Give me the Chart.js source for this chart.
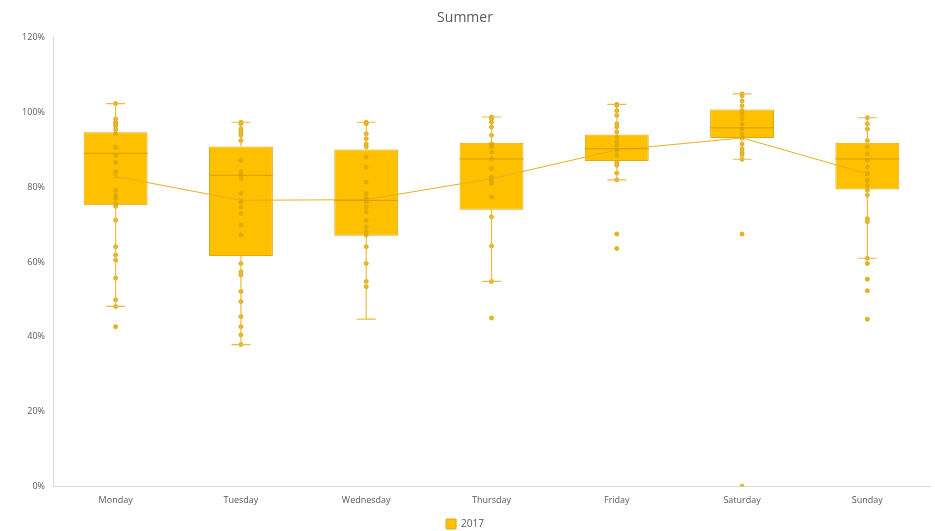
<!DOCTYPE html>
<html>
<head>
<meta charset="utf-8">
<script src="https://cdn.jsdelivr.net/npm/chart.js@4.4.1/dist/chart.umd.min.js"></script>
<style>
html,body{margin:0;padding:0;background:#fff;overflow:hidden;}
canvas{display:block;}
</style>
</head>
<body>
<canvas id="c" width="935" height="531" style="width:935px;height:531px"></canvas>
<script>
const categories = ['Monday','Tuesday','Wednesday','Thursday','Friday','Saturday','Sunday'];
const minVals    = [48.1, 37.9, 44.7, 54.8, 82.0, 87.5, 61.0];
const q1Vals     = [75.2, 61.6, 67.0, 74.0, 87.0, 93.2, 79.4];
const medianVals = [89.1, 83.2, 76.5, 87.6, 90.3, 95.9, 87.6];
const q3Vals     = [94.7, 90.9, 90.1, 91.9, 94.1, 100.8, 91.9];
const maxVals    = [102.4, 97.4, 97.4, 98.8, 102.2, 105.0, 98.6];
const meanVals   = [82.9, 76.5, 76.7, 82.3, 90.0, 93.2, 83.6];
const mondayPts    = [102.4,98.3,97.4,97.0,96.3,95.4,94.3,90.7,88.5,86.7,84.1,79.2,77.9,77.0,75.6,74.9,71.2,64.1,61.9,60.5,55.7,49.9,48.1,42.7];
const tuesdayPts   = [97.4,97.0,95.6,94.8,93.9,92.5,87.2,84.1,83.2,82.3,78.3,76.1,74.7,73.0,69.9,67.2,59.6,57.4,56.5,52.1,49.4,45.4,42.7,40.5,37.9];
const wednesdayPts = [97.4,97.0,94.3,93.0,91.6,90.8,88.1,85.4,81.4,78.3,77.0,76.1,74.7,73.4,71.2,69.4,68.1,67.2,64.1,59.6,54.8,53.4];
const thursdayPts  = [98.8,98.3,97.4,96.1,93.9,91.6,90.8,89.4,87.6,85.0,82.7,81.9,81.0,77.4,72.1,64.3,54.8,45.0];
const fridayPts    = [102.2,101.9,100.5,99.2,97.0,96.1,94.8,93.4,92.1,91.2,89.9,88.5,86.7,85.9,83.8,82.0,67.5,63.6];
const saturdayPts  = [105.0,104.5,103.1,101.8,100.5,99.6,98.3,96.9,95.6,94.3,93.4,91.6,90.3,89.4,88.7,87.5,67.5,0];
const sundayPts    = [98.6,97.0,95.6,92.5,90.8,89.0,87.2,85.4,83.6,81.9,80.5,79.2,77.9,71.6,70.8,61.0,59.6,55.4,52.3,44.7];
const yTicks = [0,20,40,60,80,100,120];

const allPts = [mondayPts,tuesdayPts,wednesdayPts,thursdayPts,fridayPts,saturdayPts,sundayPts];
const scatterData = [];
allPts.forEach((arr,i)=>arr.forEach(v=>scatterData.push({x:categories[i], y:v})));

const GOLD = '#FFC000';

const boxPlugin = {
  id:'boxExtras',
  afterDatasetsDraw(chart){
    const ctx = chart.ctx, xs = chart.scales.x, ys = chart.scales.y;
    const meta = chart.getDatasetMeta(2);
    ctx.save();
    categories.forEach((c,i)=>{
      const x = xs.getPixelForValue(i);
      const bar = meta.data[i];
      const half = bar.width/2;
      ctx.strokeStyle = '#D49E00';
      ctx.lineWidth = 1;
      const ym = ys.getPixelForValue(medianVals[i]);
      ctx.beginPath(); ctx.moveTo(x-half, ym); ctx.lineTo(x+half, ym); ctx.stroke();
      ctx.strokeStyle = '#E8BC48';
      ctx.lineWidth = 1.2;
      const yMin = ys.getPixelForValue(minVals[i]);
      const yMax = ys.getPixelForValue(maxVals[i]);
      const yQ1 = ys.getPixelForValue(q1Vals[i]);
      const yQ3 = ys.getPixelForValue(q3Vals[i]);
      ctx.beginPath();
      ctx.moveTo(x, yQ3); ctx.lineTo(x, yMax);
      ctx.moveTo(x, yQ1); ctx.lineTo(x, yMin);
      ctx.moveTo(x-9.5, yMax); ctx.lineTo(x+9.5, yMax);
      ctx.moveTo(x-9.5, yMin); ctx.lineTo(x+9.5, yMin);
      ctx.stroke();
    });
    ctx.restore();
  }
};

new Chart(document.getElementById('c'), {
  type:'bar',
  data:{
    labels: categories,
    datasets:[
      {
        type:'line',
        label:'Mean',
        data: meanVals,
        borderColor:'#E6B020',
        borderWidth:1,
        pointStyle:'crossRot',
        pointRadius:3,
        pointBorderColor:'#D9A300',
        pointBorderWidth:1,
        fill:false,
        tension:0,
        order:0
      },
      {
        type:'scatter',
        label:'Points',
        data: scatterData,
        backgroundColor:'rgba(222,168,0,0.85)',
        borderColor:'rgba(222,168,0,0.85)',
        pointRadius:2,
        order:1
      },
      {
        type:'bar',
        label:'2017',
        data: categories.map((c,i)=>[q1Vals[i], q3Vals[i]]),
        backgroundColor: GOLD,
        borderColor: '#E0AA10',
        borderWidth:1,
        borderSkipped:false,
        categoryPercentage:1,
        barPercentage:0.51,
        order:3
      }
    ]
  },
  plugins:[boxPlugin],
  options:{
    responsive:false,
    animation:false,
    devicePixelRatio:1,
    layout:{padding:{left:0,right:5,top:0,bottom:-8}},
    plugins:{
      title:{display:true,text:'Summer',color:'#595959',font:{family:'Open Sans',size:14,weight:'normal'},padding:{top:10,bottom:11}},
      legend:{
        display:true,position:'bottom',
        labels:{
          filter:(item)=>item.text==='2017',
          boxWidth:10,boxHeight:10,color:'#595959',font:{family:'Open Sans',size:10},padding:4
        }
      },
      tooltip:{enabled:false}
    },
    scales:{
      x:{
        type:'category',
        offset:true,
        grid:{display:false,drawTicks:false},
        border:{display:true,color:'#D9D9D9'},
        ticks:{color:'#595959',font:{family:'Open Sans',size:9},padding:9,maxRotation:0,autoSkip:false}
      },
      y:{
        min:0,max:120,
        afterBuildTicks:(ax)=>{ax.ticks = yTicks.map(v=>({value:v}));},
        afterFit:(ax)=>{ax.width=53;},
        grid:{display:false,drawTicks:false},
        border:{display:true,color:'#D9D9D9'},
        ticks:{color:'#595959',font:{family:'Open Sans',size:9},padding:8,callback:(v)=>v+'%'}
      }
    }
  }
});
</script>
</body>
</html>
